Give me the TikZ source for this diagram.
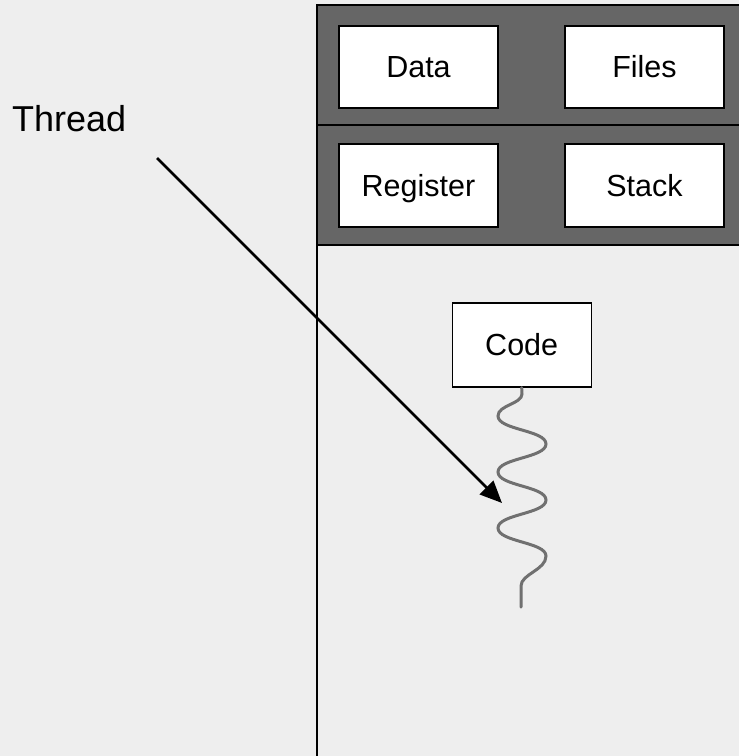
\documentclass[tikz,border=0pt]{standalone}
\usepackage{fontspec}
\setmainfont{Liberation Sans}
\usetikzlibrary{arrows.meta}
\definecolor{bg}{HTML}{EEEEEE}
\definecolor{panel}{HTML}{666666}
\definecolor{wavegray}{HTML}{707070}
\begin{document}
\begin{tikzpicture}[x=1pt,y=-1pt,
  box/.style={draw=black, line width=1.3pt, fill=white, inner sep=0pt,
    minimum width=159pt, minimum height=82pt,
    font=\fontsize{30.5}{36}\selectfont, text height=21.8pt, text depth=0pt},
  frame/.style={draw=black, line width=1.8pt},
  wave/.style={draw=wavegray, line width=3pt, line cap=round},
  pointer/.style={draw=black, line width=2.8pt, -{Triangle[length=22pt,width=19pt]}}
]
% canvas
\fill[bg] (0,0) rectangle (739,756);
\useasboundingbox (0,0) rectangle (739,756);
\clip (0,0) rectangle (739,756);

% process body (open to the right and bottom)
\draw[frame] (317,245) -- (317,760);

% shared panel: two dark bands
\draw[frame, fill=panel] (317,5) rectangle (760,125);
\draw[frame, fill=panel] (317,125) rectangle (760,245);

% resources
\node[box] (data)     at (418.5,67)    {Data};
\node[box] (files)    at (644.5,67)    {Files};
\node[box, minimum height=83pt] (register) at (418.5,185.5) {Register};
\node[box, minimum height=83pt] (stack)    at (644.5,185.5) {Stack};

% code and its thread of execution
\node[box, minimum width=139pt, minimum height=84pt] (code) at (521.7,345) {Code};
\coordinate (wend) at (521,607);
\draw[wave] (code.south) -- (522,394)
  .. controls (522,404) and (498,405) .. (498,416)
  .. controls (498,430) and (546,430) .. (546,444)
  .. controls (546,458) and (498,458) .. (498,472)
  .. controls (498,486) and (546,486) .. (546,500)
  .. controls (546,514) and (498,514) .. (498,528)
  .. controls (498,542) and (546,542) .. (546,556)
  .. controls (546,570) and (521,574) .. (521,586)
  -- (wend);

% label and pointer
\node[anchor=base west, inner sep=0pt, font=\fontsize{36}{40}\selectfont] (thread) at (12,131) {Thread};
\coordinate (tstart) at (157,158);
\coordinate (ttip) at (502,503);
\draw[pointer] (tstart) -- (ttip);
\end{tikzpicture}
\end{document}
